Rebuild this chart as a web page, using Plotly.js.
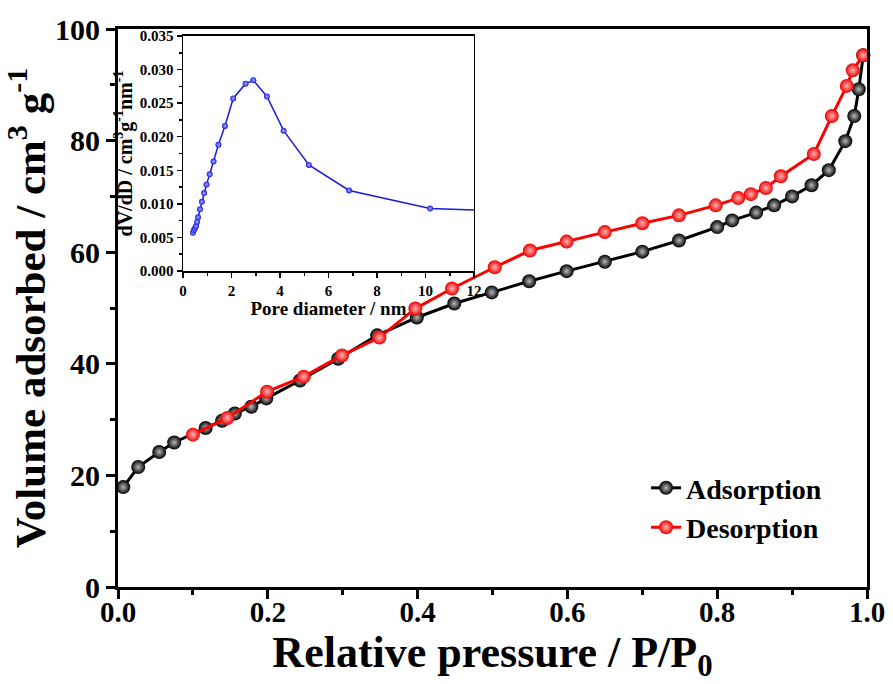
<!DOCTYPE html>
<html>
<head>
<meta charset="utf-8">
<script src="https://cdn.plot.ly/plotly-3.0.1.min.js"></script>
<style>html,body{margin:0;padding:0;background:#fff;}#chart{width:893px;height:684px;}</style>
</head>
<body>
<div id="chart"></div>
<script>
// Main isotherm data (relative pressure P/P0, volume adsorbed cm3/g)
var adsP = [0.007, 0.027, 0.055, 0.075, 0.117, 0.139, 0.156, 0.178, 0.198, 0.243, 0.294, 0.346, 0.399, 0.449, 0.499, 0.549, 0.599, 0.650, 0.700, 0.749, 0.800, 0.820, 0.852, 0.876, 0.900, 0.926, 0.949, 0.971, 0.983, 0.989, 0.995];
var adsV = [17.9, 21.5, 24.2, 25.9, 28.5, 29.8, 31.1, 32.3, 33.8, 37.0, 40.9, 45.1, 48.3, 50.8, 52.8, 54.8, 56.6, 58.3, 60.1, 62.1, 64.5, 65.7, 67.1, 68.4, 70.0, 72.0, 74.7, 79.9, 84.4, 89.2, 95.3];
var desP = [0.995, 0.981, 0.973, 0.953, 0.929, 0.885, 0.865, 0.845, 0.828, 0.798, 0.749, 0.700, 0.650, 0.599, 0.550, 0.503, 0.446, 0.397, 0.349, 0.299, 0.248, 0.199, 0.146, 0.100];
var desV = [95.3, 92.6, 89.8, 84.4, 77.6, 73.6, 71.5, 70.4, 69.7, 68.4, 66.6, 65.2, 63.6, 61.9, 60.3, 57.3, 53.5, 49.9, 44.7, 41.5, 37.7, 35.0, 30.3, 27.3];
// Inset: pore size distribution
var poreD = [0.41, 0.45, 0.50, 0.54, 0.58, 0.62, 0.70, 0.78, 0.87, 0.97, 1.10, 1.26, 1.46, 1.73, 2.07, 2.58, 2.90, 3.46, 4.15, 5.19, 6.85, 10.19, 14.5];
var dVdD  = [0.0057, 0.0061, 0.0064, 0.0067, 0.0073, 0.0080, 0.0092, 0.0103, 0.0116, 0.0129, 0.0144, 0.0163, 0.0188, 0.0216, 0.0257, 0.0279, 0.0284, 0.0260, 0.0209, 0.0158, 0.0120, 0.0093, 0.0088];
var seriesNames = ['Adsorption', 'Desorption'];

var FONT = 'Liberation Serif, Times New Roman, serif';

var traces = [
  {x: adsP, y: adsV, name: seriesNames[0], type: 'scatter', mode: 'lines+markers', cliponaxis: false,
   line: {color: '#000000', width: 3},
   marker: {size: 14, color: '#000000', gradient: {type: 'radial', color: '#b8b8b8'}, line: {width: 0}}},
  {x: desP, y: desV, name: seriesNames[1], type: 'scatter', mode: 'lines+markers', cliponaxis: false,
   line: {color: '#ff0000', width: 3},
   marker: {size: 14, color: '#ee0000', gradient: {type: 'radial', color: '#ffb4b4'}, line: {width: 0}}},
  {x: poreD, y: dVdD, name: 'PSD', type: 'scatter', mode: 'lines+markers', xaxis: 'x2', yaxis: 'y2', showlegend: false,
   line: {color: '#1a1ae0', width: 1.5},
   marker: {size: 6, color: '#1a1ae0', gradient: {type: 'radial', color: '#a8b0ff'}, line: {width: 0}}}
];

var layout = {
  width: 893, height: 684,
  margin: {l: 118, r: 26, t: 29, b: 97},
  paper_bgcolor: '#ffffff', plot_bgcolor: '#ffffff',
  font: {family: FONT, color: '#000000'},
  showlegend: true,
  legend: {x: 0.705, y: 0.222, xanchor: 'left', yanchor: 'top', bgcolor: 'rgba(0,0,0,0)',
           font: {family: FONT, size: 28, weight: 'bold', color: '#000'}},
  xaxis: {
    domain: [0, 1], range: [0, 1], tick0: 0, dtick: 0.2, tickformat: '.1f',
    ticks: 'outside', ticklen: 9, tickwidth: 3, tickcolor: '#000',
    showline: true, linewidth: 3, linecolor: '#000', mirror: true,
    showgrid: false, zeroline: false, ticklabelstandoff: -12,
    minor: {dtick: 0.1, ticks: 'outside', ticklen: 5, tickwidth: 3, tickcolor: '#000'},
    tickfont: {family: FONT, size: 29, weight: 'bold'},
    title: {text: 'Relative pressure / P/P<sub>0</sub>', font: {family: FONT, size: 44, weight: 'bold'}, standoff: 4}
  },
  yaxis: {
    domain: [0, 1], range: [0, 100], tick0: 0, dtick: 20,
    ticks: 'outside', ticklen: 9, tickwidth: 3, tickcolor: '#000',
    showline: true, linewidth: 3, linecolor: '#000', mirror: true,
    showgrid: false, zeroline: false,
    minor: {dtick: 10, ticks: 'outside', ticklen: 5, tickwidth: 3, tickcolor: '#000'},
    tickfont: {family: FONT, size: 30, weight: 'bold'},
    title: {text: 'Volume adsorbed / cm<sup>3</sup> g<sup>-1</sup>', font: {family: FONT, size: 43, weight: 'bold'}, standoff: 6}
  },
  xaxis2: {
    domain: [0.0868, 0.4753], anchor: 'y2', range: [0, 12], tick0: 0, dtick: 2,
    ticks: 'outside', ticklen: 5, tickwidth: 1.5, tickcolor: '#000',
    showline: true, linewidth: 1.5, linecolor: '#000', mirror: true,
    showgrid: false, zeroline: false,
    minor: {dtick: 1, ticks: 'outside', ticklen: 3, tickwidth: 1.5, tickcolor: '#000'},
    tickfont: {family: FONT, size: 15, weight: 'bold'},
    title: {text: 'Pore diameter / nm', font: {family: FONT, size: 19, weight: 'bold'}, standoff: 0}
  },
  yaxis2: {
    domain: [0.5663, 0.9875], anchor: 'x2', range: [0, 0.035], tick0: 0, dtick: 0.005, tickformat: '.3f',
    ticks: 'outside', ticklen: 5, tickwidth: 1.5, tickcolor: '#000',
    showline: true, linewidth: 1.5, linecolor: '#000', mirror: true,
    showgrid: false, zeroline: false,
    minor: {dtick: 0.0025, ticks: 'outside', ticklen: 3, tickwidth: 1.5, tickcolor: '#000'},
    tickfont: {family: FONT, size: 15, weight: 'bold'},
    title: {text: 'dV/dD / cm<sup>3</sup>g<sup>-1</sup>nm<sup>-1</sup>', font: {family: FONT, size: 20, weight: 'bold'}, standoff: 2}
  }
};

Plotly.newPlot('chart', traces, layout, {displayModeBar: false, staticPlot: true});
</script>
</body>
</html>
